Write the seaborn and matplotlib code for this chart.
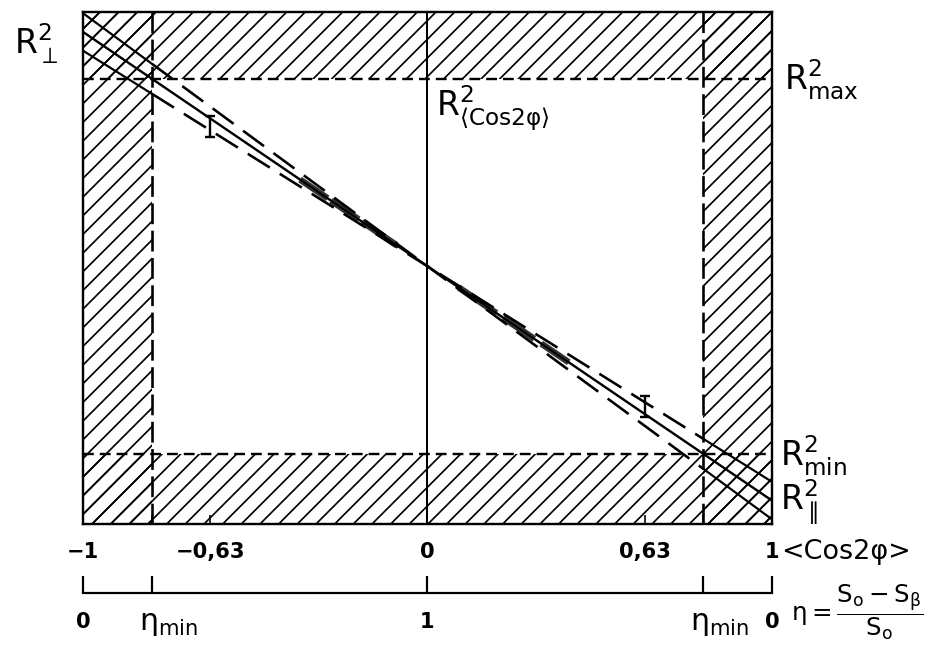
import matplotlib
matplotlib.use("Agg")
import matplotlib.pyplot as plt
import seaborn as sns
import pandas as pd

# ---------------- data ----------------
cos_ticks = [-1, -0.63, 0, 0.63, 1]
cos_tick_labels = ["−1", "−0,63", "0", "0,63", "1"]
eta_tick_pos = [-1, -0.8, 0, 0.8, 1]
eta_tick_labels = ["0", "", "1", "", "0"]
cos_eta_min = [-0.8, 0.8]          # <cos2phi> where eta = eta_min
r2_max = 0.8
r2_min = -0.8
y_bottom, y_top = -1.1, 1.085

# central solid line  R^2(<cos2phi>)
main_x = [-1.0, 1.0]
main_y = [1.0, -1.0]
# dashed bounds inside the allowed window
fan_x = [-0.8, 0.8]
steep_y = [0.864, -0.864]
shallow_y = [0.736, -0.736]
# continuation of the bounds inside the hatched corners
left_x = [-1.0, -0.8]
steep_left = [1.08, 0.864]
shallow_left = [0.92, 0.736]
right_x = [0.8, 1.0]
steep_right = [-0.864, -1.08]
shallow_right = [-0.736, -0.92]
# error bars at +-0.63
err_x = [-0.63, 0.63]
err_y = [0.595, -0.60]
err_half = [0.045, 0.045]
# thick shaded pieces on the central line
band_x0 = [-0.37, -0.28, -0.19, 0.09, 0.22, 0.33]
band_x1 = [-0.29, -0.20, -0.09, 0.20, 0.31, 0.41]
band_y0 = [0.37, 0.28, 0.19, -0.09, -0.22, -0.33]
band_y1 = [0.29, 0.20, 0.09, -0.20, -0.31, -0.41]

# ---------------- style ----------------
DPI = 112
def pt(px):
    return px * 72.0 / DPI

sns.set_theme(style="white")
plt.rcParams["font.family"] = ["DejaVu Sans"]
plt.rcParams["mathtext.fontset"] = "dejavusans"
plt.rcParams["mathtext.default"] = "regular"
plt.rcParams["hatch.linewidth"] = pt(1.7)
plt.rcParams["hatch.color"] = "black"
plt.rcParams["text.color"] = "black"
plt.rcParams["xtick.color"] = "black"
plt.rcParams["xtick.labelcolor"] = "black"

fig = plt.figure(figsize=(934 / DPI, 647 / DPI), dpi=DPI)
fig.patch.set_facecolor("white")
ax = fig.add_axes([83 / 934, 123 / 647, (772 - 83) / 934, (524 - 12) / 647])
ax.set_facecolor("white")
ax.set_xlim(-1, 1)
ax.set_ylim(y_bottom, y_top)

# hatched forbidden regions
HATCH = "//"
ax.axvspan(-1, cos_eta_min[0], fill=False, hatch=HATCH, edgecolor="black", lw=0, zorder=1)
ax.axvspan(cos_eta_min[1], 1, fill=False, hatch=HATCH, edgecolor="black", lw=0, zorder=1)
ax.axhspan(r2_max, y_top, fill=False, hatch=HATCH, edgecolor="black", lw=0, zorder=1)
ax.axhspan(y_bottom, r2_min, fill=False, hatch=HATCH, edgecolor="black", lw=0, zorder=1)

# window boundaries
ax.axvline(0, color="black", lw=pt(2), zorder=2)
for xv in cos_eta_min:
    ax.axvline(xv, color="black", lw=pt(2.6), linestyle=(0, (8, 2.5)), zorder=2)
for yv in (r2_max, r2_min):
    ax.axhline(yv, color="black", lw=pt(2.4), linestyle=(0, (4.5, 2.5)), zorder=2)

# lines
sns.lineplot(x=main_x, y=main_y, ax=ax, color="black", lw=pt(2.4), zorder=4,
             estimator=None, sort=False)
for ys in (steep_y, shallow_y):
    sns.lineplot(x=fan_x, y=ys, ax=ax, color="black", lw=pt(2.6), zorder=4,
                 estimator=None, sort=False, linestyle=(0, (10, 4.5)))
for xs, ys in ((left_x, steep_left), (left_x, shallow_left),
               (right_x, steep_right), (right_x, shallow_right)):
    sns.lineplot(x=xs, y=ys, ax=ax, color="black", lw=pt(2.2), zorder=4,
                 estimator=None, sort=False)

band = pd.DataFrame({"x0": band_x0, "x1": band_x1, "y0": band_y0, "y1": band_y1})
for _, r in band.iterrows():
    ax.plot([r.x0, r.x1], [r.y0, r.y1], color="0.2", lw=pt(6.5),
            solid_capstyle="butt", zorder=3)
    ax.plot([r.x0, r.x1], [r.y0, r.y1], color="0.7", lw=pt(2),
            solid_capstyle="butt", zorder=3.5)

ax.errorbar(err_x, err_y, yerr=err_half, fmt="none", ecolor="black",
            elinewidth=pt(2.4), capsize=pt(5), capthick=pt(2.4), zorder=5)

# frame and ticks
for s in ax.spines.values():
    s.set_color("black")
    s.set_linewidth(pt(2.4))
ax.set_yticks([])
ax.set_xticks(cos_ticks, cos_tick_labels)
ax.set_xticks(cos_eta_min, minor=True)
ax.tick_params(axis="x", which="both", direction="in", length=pt(9), width=pt(1.6),
               color="black", labelcolor="black", bottom=True, pad=pt(18),
               labelsize=pt(21))
for lab in ax.get_xticklabels():
    lab.set_fontweight("bold")

# labels on the chart
lab_fs = pt(33)
ax.annotate(r"$R^2_{max}$", xy=(1, r2_max), xytext=(pt(12), pt(-1)),
            textcoords="offset points", ha="left", va="center", fontsize=lab_fs,
            annotation_clip=False)
ax.annotate(r"$R^2_{min}$", xy=(1, r2_min), xytext=(pt(8), pt(-2)),
            textcoords="offset points", ha="left", va="center", fontsize=lab_fs,
            annotation_clip=False)
ax.annotate(r"$R^2_{\parallel}$", xy=(1, main_y[-1]), xytext=(pt(8), pt(-2)),
            textcoords="offset points", ha="left", va="center", fontsize=lab_fs,
            annotation_clip=False)
ax.annotate(r"$R^2_{\perp}$", xy=(-1, main_y[0]), xytext=(pt(-24), pt(-12)),
            textcoords="offset points", ha="right", va="center", fontsize=lab_fs,
            annotation_clip=False)
ax.annotate(r"$R^2_{\langle Cos2\varphi\rangle}$", xy=(0, r2_max), xytext=(pt(9), pt(-5)),
            textcoords="offset points", ha="left", va="top", fontsize=lab_fs)
ax.annotate("<Cos2φ>", xy=(1, 0), xycoords="axes fraction", xytext=(pt(9), pt(-28)),
            textcoords="offset points", ha="left", va="center", fontsize=pt(27),
            annotation_clip=False)

# second scale: eta
ax2 = fig.add_axes([83 / 934, (647 - 593) / 647, (772 - 83) / 934, 0.04])
ax2.set_facecolor("none")
ax2.set_xlim(-1, 1)
ax2.set_yticks([])
for k in ("top", "left", "right"):
    ax2.spines[k].set_visible(False)
ax2.spines["bottom"].set_color("black")
ax2.spines["bottom"].set_linewidth(pt(2.2))
ax2.set_xticks(eta_tick_pos, eta_tick_labels)
ax2.tick_params(axis="x", direction="in", length=pt(17), width=pt(2.2), color="black",
                labelcolor="black", bottom=True, pad=pt(19), labelsize=pt(21))
for lab in ax2.get_xticklabels():
    lab.set_fontweight("bold")
for xv in cos_eta_min:
    ax2.annotate(r"$\eta_{min}$", xy=(xv, 0), xycoords=("data", "axes fraction"),
                 xytext=(pt(-13), pt(-16)), textcoords="offset points",
                 ha="left", va="top", fontsize=pt(30))
ax2.annotate(r"$\eta = \dfrac{S_o - S_\beta}{S_o}$", xy=(1, 0), xycoords="axes fraction",
             xytext=(pt(19), pt(-19)), textcoords="offset points",
             ha="left", va="center", fontsize=pt(24.5), annotation_clip=False)

fig.savefig("out.png", dpi=DPI, facecolor="white")
